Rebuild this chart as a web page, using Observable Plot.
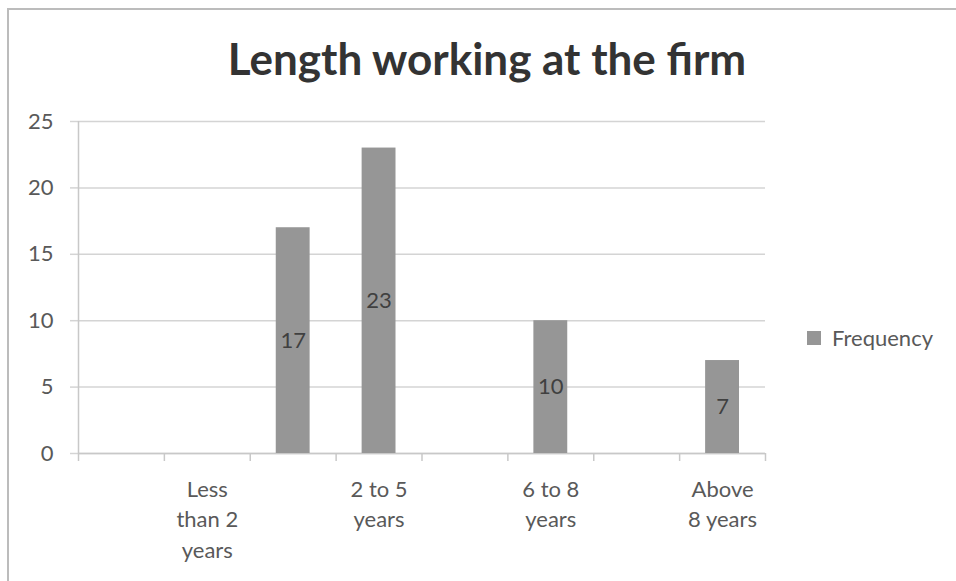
<!DOCTYPE html>
<html>
<head>
<meta charset="utf-8">
<script src="https://cdn.jsdelivr.net/npm/d3@7"></script>
<script src="https://cdn.jsdelivr.net/npm/@observablehq/plot@0.6"></script>
<style>
  html, body { margin: 0; padding: 0; background: #fff; }
  #wrap { position: relative; width: 956px; height: 581px; overflow: hidden; font-family: Lato, "Open Sans", sans-serif; }
  #frame { position: absolute; left: 7px; top: 8px; width: 1200px; height: 800px; border-top: 2px solid #bcbcbc; border-left: 2px solid #bcbcbc; }
  #title { position: relative; box-sizing: border-box; height: 100px; padding-top: 36px; margin: 0; text-align: center;
           font: bold 44px/44px Lato, sans-serif; color: #333; padding-left: 18px; }
  #chart { position: absolute; left: 0; top: 100px; }
  #legend { position: absolute; left: 807px; top: 321px; }
</style>
</head>
<body>
<div id="wrap">
  <div id="frame"></div>
  <div id="title">Length working at the firm</div>
  <div id="chart"></div>
  <div id="legend"></div>
</div>
<script>
// Category slots (Excel shows every other category label)
const categories = ["", "Less than 2 years", "", "2 to 5 years", "", "6 to 8 years", "", "Above 8 years"];
const tickLabels = ["", "Less\nthan 2\nyears", "", "2 to 5\nyears", "", "6 to 8\nyears", "", "Above\n8 years"];
const frequency = [null, null, 17, 23, null, 10, null, 7];
const yTicks = [0, 5, 10, 15, 20, 25];
const seriesName = "Frequency";

const barColor = "#969696";
const textColor = "#595959";

const bars = categories.map((c, i) => ({i, category: c, value: frequency[i]})).filter(d => d.value != null);
const labels = tickLabels.map((t, i) => ({i, label: t})).filter(d => d.label !== "");

const chart = Plot.plot({
  width: 956,
  height: 481,
  marginLeft: 78,
  marginRight: 191,
  marginTop: 21,
  marginBottom: 128,
  x: {domain: [0, categories.length], axis: null},
  y: {domain: [0, 25], axis: null},
  style: {fontFamily: "Lato, sans-serif", fontSize: "22px", color: textColor, background: "transparent", overflow: "visible"},
  marks: [
    Plot.gridY(yTicks, {stroke: "#d4d4d4", strokeOpacity: 1, strokeWidth: 1.5}),
    Plot.axisY({ticks: yTicks, tickSize: 8, tickPadding: 17, label: null, stroke: "#d4d4d4", strokeOpacity: 1, strokeWidth: 1.5, fill: textColor, fontSize: 22}),
    Plot.ruleX([0], {stroke: "#c8c8c8", strokeWidth: 1.5}),
    Plot.axisX({ticks: d3.range(0, categories.length + 1), tickSize: 8, tickFormat: () => "", label: null, stroke: "#c8c8c8", strokeOpacity: 1, strokeWidth: 1.5}),
    Plot.ruleY([0], {stroke: "#c8c8c8", strokeWidth: 1.5}),
    Plot.rectY(bars, {x1: "i", x2: d => d.i + 1, y: "value", insetLeft: 26, insetRight: 26, fill: barColor}),
    Plot.text(bars, {x: d => d.i + 0.5, y: d => d.value / 2, text: d => String(d.value), fill: "#404040", fontSize: 22}),
    Plot.text(labels, {x: d => d.i + 0.5, y: 0, text: "label", lineAnchor: "top", dy: 22, lineHeight: 1.38, fill: textColor, fontSize: 22})
  ]
});
document.getElementById("chart").appendChild(chart);

const legend = Plot.legend({
  color: {type: "categorical", domain: [seriesName], range: [barColor]},
  swatchSize: 14,
  style: {fontFamily: "Lato, sans-serif", fontSize: "22px", color: textColor}
});
document.getElementById("legend").appendChild(legend);
</script>
</body>
</html>
